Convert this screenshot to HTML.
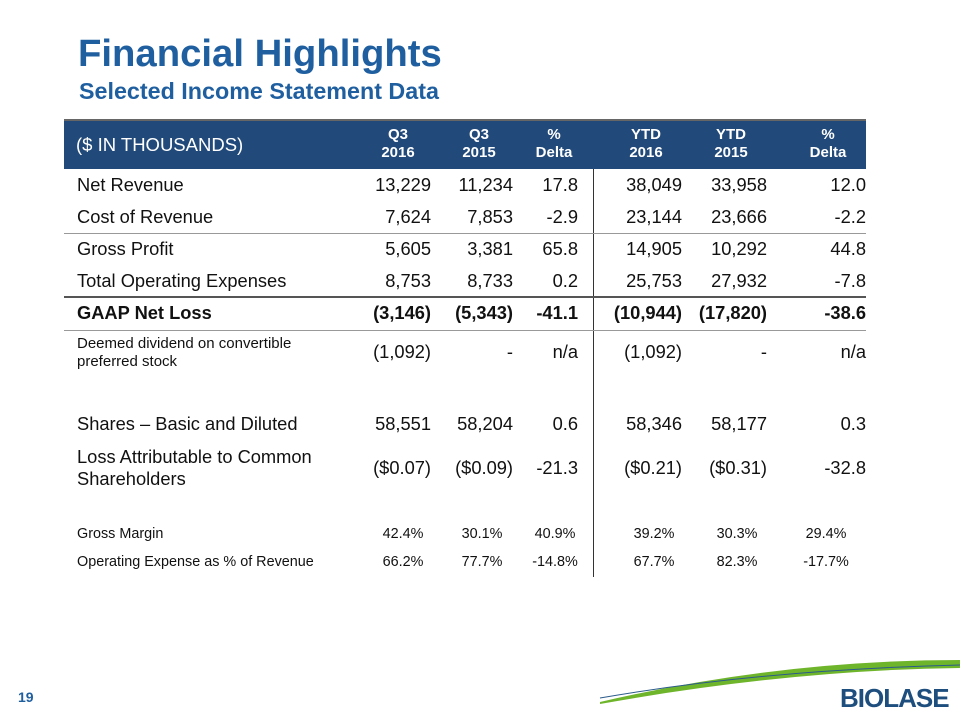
<!DOCTYPE html>
<html><head><meta charset="utf-8"><style>
body{margin:0;width:960px;height:720px;background:#fff;position:relative;overflow:hidden;font-family:"Liberation Sans",Arial,sans-serif;}
.a{position:absolute;white-space:nowrap;}
.t{font-size:18.3px;color:#111;}
.r{text-align:right;}
.c{text-align:center;}
.h{color:#fff;font-weight:bold;font-size:15px;line-height:18px;text-align:center;}
.hl{position:absolute;left:64px;width:802px;height:1px;background:#555;}
.s{font-size:14.4px;color:#111;}
</style></head><body>
<div class="a" style="left:78px;top:32px;font-size:38.3px;font-weight:bold;color:#1f5fa0;">Financial Highlights</div>
<div class="a" style="left:79px;top:78px;font-size:23.3px;font-weight:bold;color:#1f5fa0;">Selected Income Statement Data</div>

<div class="a" style="left:64px;top:119px;width:802px;height:50px;background:#21497a;border-top:2px solid #666;box-sizing:border-box;"></div>
<div class="a" style="left:76px;top:134px;color:#fff;font-size:18.5px;">($ IN THOUSANDS)</div>
<div class="a h" style="left:356px;top:126px;width:84px;">Q3<br>2016</div>
<div class="a h" style="left:439px;top:126px;width:80px;">Q3<br>2015</div>
<div class="a h" style="left:517px;top:126px;width:74px;">%<br>Delta</div>
<div class="a h" style="left:604px;top:126px;width:84px;">YTD<br>2016</div>
<div class="a h" style="left:689px;top:126px;width:84px;">YTD<br>2015</div>
<div class="a h" style="left:786px;top:126px;width:84px;">%<br>Delta</div>

<div class="a" style="left:593px;top:169px;width:1px;height:408px;background:#333;"></div>
<div class="hl" style="top:233px;height:1px;background:#999;"></div>
<div class="hl" style="top:296px;height:2px;"></div>
<div class="hl" style="top:330px;height:1px;background:#999;"></div>

<div id="rows"></div>
<svg class="a" style="left:0;top:640px" width="960" height="80">
<path d="M600 62 Q780 20 960 20 L960 28 Q790 30 600 64Z" fill="#6fb52c"/>
<path d="M600 58 Q760 30 960 25" stroke="#2a5a8a" stroke-width="1" fill="none"/>
</svg>
<div class="a" style="left:840px;top:683px;font-size:26px;font-weight:bold;color:#1d4e7e;letter-spacing:-1px;">BIOLASE</div>
<div class="a" style="left:18px;top:689px;font-size:14px;font-weight:bold;color:#1f5fa0;">19</div>

<script>
const rows=[
["Net Revenue","13,229","11,234","17.8","38,049","33,958","12.0",185,0],
["Cost of Revenue","7,624","7,853","-2.9","23,144","23,666","-2.2",217,0],
["Gross Profit","5,605","3,381","65.8","14,905","10,292","44.8",249,0],
["Total Operating Expenses","8,753","8,733","0.2","25,753","27,932","-7.8",281,0],
["GAAP Net Loss","(3,146)","(5,343)","-41.1","(10,944)","(17,820)","-38.6",313,1],
["Deemed dividend on convertible<br>preferred stock","(1,092)","-","n/a","(1,092)","-","n/a",352,2],
["Shares – Basic and Diluted","58,551","58,204","0.6","58,346","58,177","0.3",424,0],
["Loss Attributable to Common<br>Shareholders","($0.07)","($0.09)","-21.3","($0.21)","($0.31)","-32.8",468,3]];
const rights=[431,513,578,682,767,866];
const small=[
["Gross Margin","42.4%","30.1%","40.9%","39.2%","30.3%","29.4%",535],
["Operating Expense as % of Revenue","66.2%","77.7%","-14.8%","67.7%","82.3%","-17.7%",563]];
const centers=[403,482,555,654,737,826];
const host=document.getElementById('rows');
function add(html,style,cls){const d=document.createElement('div');d.className='a '+cls;d.innerHTML=html;d.style.cssText=style;host.appendChild(d);return d;}
rows.forEach(r=>{
 const y=r[7],k=r[8];
 const lab=add(r[0],'left:77px;top:'+(k===2?y-17:k===3?y-22:y-11)+'px;'+(k===1?'font-weight:bold;':'')+(k===2?'font-size:15px;line-height:18px;':'line-height:22px;'),'t');
 
 
 for(let i=0;i<6;i++){
  const c=add(r[i+1],'left:'+(rights[i]-100)+'px;width:100px;top:'+(y-11)+'px;line-height:22px;'+(k===1?'font-weight:bold;':''),'t r');
  
  
 }
});
small.forEach(r=>{
 const y=r[7];
 const lab=add(r[0],'left:77px;top:'+(y-9)+'px;','s');
 
 
 for(let i=0;i<6;i++){
  const c=add(r[i+1],'left:'+(centers[i]-40)+'px;width:80px;top:'+(y-9)+'px;','s c');
  
  
 }
});
</script>
</body></html>
